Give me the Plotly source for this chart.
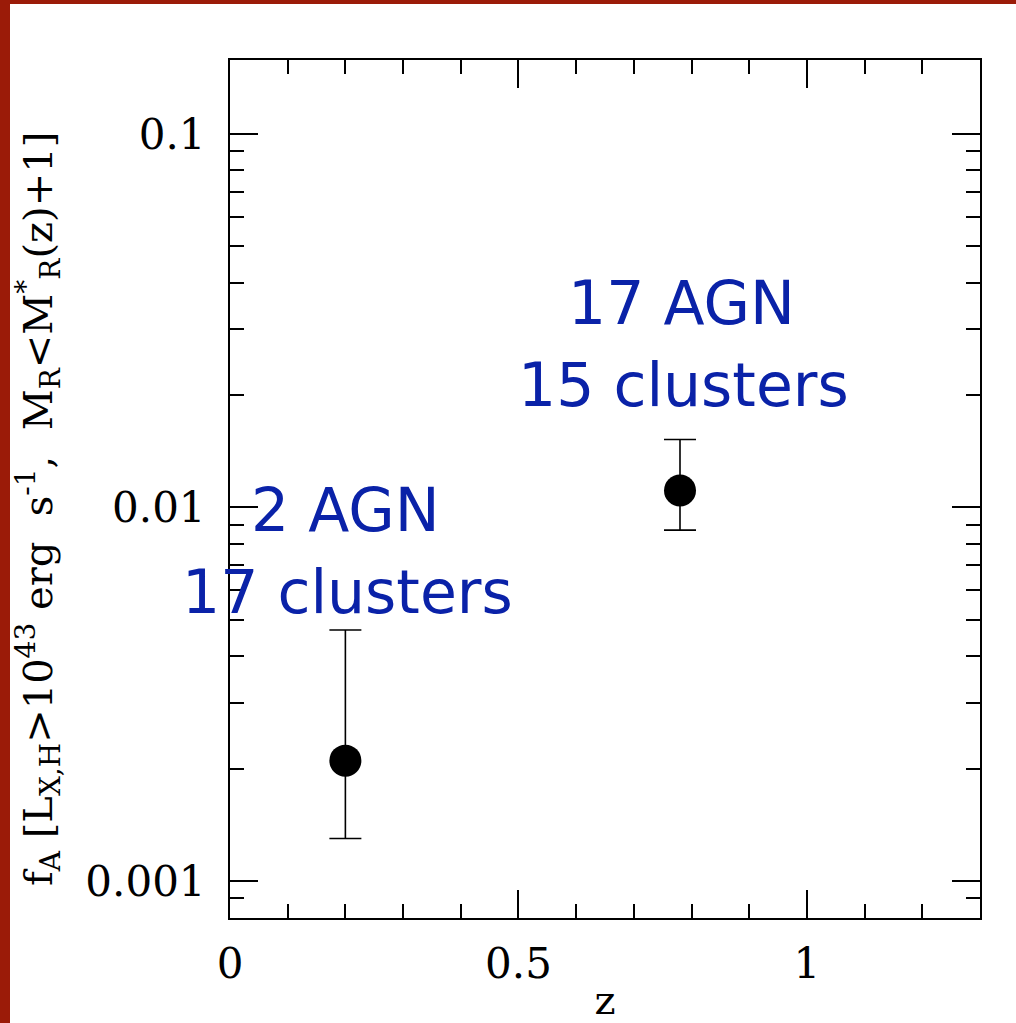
import plotly.graph_objects as go

# Redshift bins and AGN fraction with asymmetric uncertainties
redshift = [0.2, 0.78]
agn_fraction = [0.0021, 0.0111]
frac_upper = [0.0047, 0.0152]
frac_lower = [0.0013, 0.0087]

# Sample descriptions for each bin
bin_labels = [["2 AGN", "17 clusters"], ["17 AGN", "15 clusters"]]

x_ticks = [0, 0.5, 1]
x_ticklabels = ["0", "0.5", "1"]
y_ticks = [0.001, 0.01, 0.1]
y_ticklabels = ["0.001", "0.01", "0.1"]

err_plus = [u - f for u, f in zip(frac_upper, agn_fraction)]
err_minus = [f - l for f, l in zip(agn_fraction, frac_lower)]

W, H = 1016, 1023
ML, MR, MT, MB = 230, 36, 60, 105
PW, PH = W - ML - MR, H - MT - MB

fig = go.Figure()
fig.add_trace(go.Scatter(
    x=redshift, y=agn_fraction, mode="markers",
    marker=dict(size=32, color="black", line=dict(width=0)),
    error_y=dict(type="data", symmetric=False, array=err_plus, arrayminus=err_minus,
                 color="black", thickness=1.6, width=16),
    showlegend=False,
))

serif = "DejaVu Serif"
axis_common = dict(
    showline=True, linecolor="black", linewidth=2, mirror="allticks",
    ticks="inside", tickcolor="black", tickwidth=2, ticklen=28,
    showgrid=False, zeroline=False, automargin=False,
    tickfont=dict(family=serif, size=42, color="black"),
)

fig.update_xaxes(
    range=[0, 1.3], tickvals=x_ticks, ticktext=x_ticklabels,
    minor=dict(ticks="inside", ticklen=14, tickwidth=2, tickcolor="black", dtick=0.1, tick0=0, showgrid=False),
    ticklabelstandoff=8,
    title=dict(text="z", font=dict(family=serif, size=40, color="black"), standoff=18),
    **axis_common,
)
fig.update_yaxes(
    type="log", range=[-3.099, -0.802], tickvals=y_ticks, ticktext=y_ticklabels,
    minor=dict(ticks="inside", ticklen=14, tickwidth=2, tickcolor="black", dtick="D1", showgrid=False),
    ticklabelstandoff=14,
    **axis_common,
)

# Y-axis label as a rotated annotation
ylabel = ("f<sub>A</sub> [L<sub>X,H</sub>&gt;10<sup>43</sup> erg  s<sup>-1</sup>,  "
          "M<sub>R</sub>&lt;M<sup>*</sup><sub>R</sub>(z)+1]")
fig.add_annotation(
    text=ylabel, textangle=-90, xref="paper", yref="paper",
    x=(38 - ML) / PW, y=(H - MB - 509) / PH, xanchor="center", yanchor="middle",
    showarrow=False, font=dict(family=serif, size=40, color="black"),
)

# Sample-size labels above each point
label_pos = [[(345, 510), (347, 592)], [(681, 303), (683, 385)]]
for lines, pos in zip(bin_labels, label_pos):
    for txt, (px, py) in zip(lines, pos):
        fig.add_annotation(
            text=txt, xref="paper", yref="paper",
            x=(px - ML) / PW, y=(H - MB - py) / PH, xanchor="center", yanchor="middle",
            showarrow=False, font=dict(family="DejaVu Sans", size=60, color="#0a22a8"),
        )

# Dark red frame strips along the top and left edges of the page
fig.add_shape(type="rect", xref="paper", yref="paper", layer="below",
              x0=-ML / PW, x1=(10 - ML) / PW, y0=-MB / PH, y1=(PH + MT) / PH,
              fillcolor="#9b1b08", line=dict(width=0))
fig.add_shape(type="rect", xref="paper", yref="paper", layer="below",
              x0=-ML / PW, x1=(W - ML) / PW, y0=(PH + MT - 4) / PH, y1=(PH + MT) / PH,
              fillcolor="#9b1b08", line=dict(width=0))

fig.update_layout(
    width=W, height=H, margin=dict(l=ML, r=MR, t=MT, b=MB),
    paper_bgcolor="white", plot_bgcolor="white",
)
fig.write_html("out.html")
